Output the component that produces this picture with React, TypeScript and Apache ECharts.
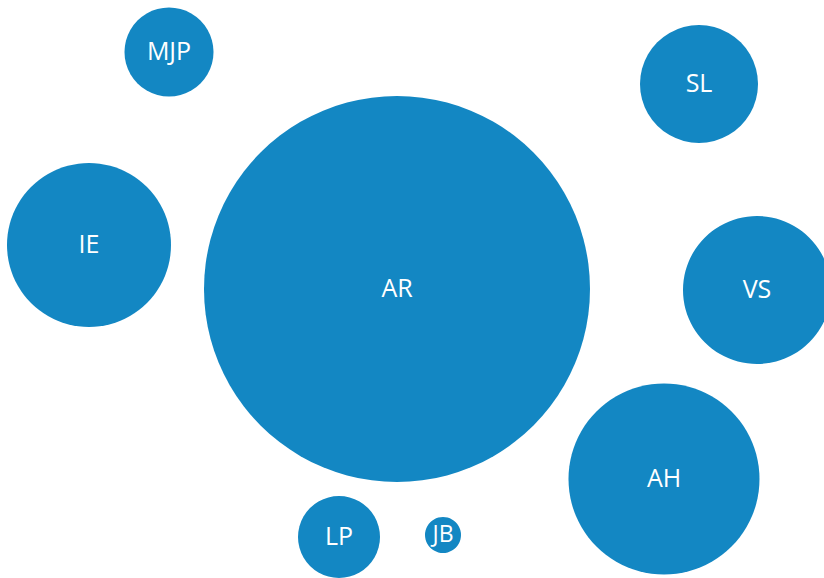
import React, { useEffect, useRef } from "react";
import * as echarts from "echarts";

const names = ["MJP", "SL", "IE", "AR", "VS", "AH", "LP", "JB"];
const xs = [169, 699, 89, 397, 757, 664, 339, 443];
const ys = [52, 84, 245, 289, 290, 479, 537, 535];
const diameters = [89, 118, 164, 386, 148, 191, 82, 36];
const fontSizes = [25, 25, 25, 25, 25, 25, 25, 23];

export default function App() {
  const ref = useRef<HTMLDivElement>(null);
  useEffect(() => {
    document.body.style.margin = "0";
    if (!ref.current) return;
    const chart = echarts.init(ref.current, null, { renderer: "svg" });
    const data = names.map((n, i) => ({
      name: n,
      value: [xs[i], ys[i]],
      symbolSize: diameters[i],
      label: { fontSize: fontSizes[i] },
    }));
    chart.setOption({
      animation: false,
      grid: { left: 0, right: 0, top: 0, bottom: 0 },
      xAxis: { type: "value", min: 0, max: 824, show: false },
      yAxis: { type: "value", min: 0, max: 578, inverse: true, show: false },
      series: [
        {
          type: "scatter",
          data,
          itemStyle: { color: "#1387C3", opacity: 1 },
          label: {
            show: true,
            position: "inside",
            offset: [0, -2],
            formatter: "{b}",
            color: "#ffffff",
            fontFamily: "Open Sans",
            fontSize: 25,
          },
          emphasis: { disabled: true },
        },
      ],
    });
    return () => chart.dispose();
  }, []);
  return <div ref={ref} style={{ width: 824, height: 578 }} />;
}
